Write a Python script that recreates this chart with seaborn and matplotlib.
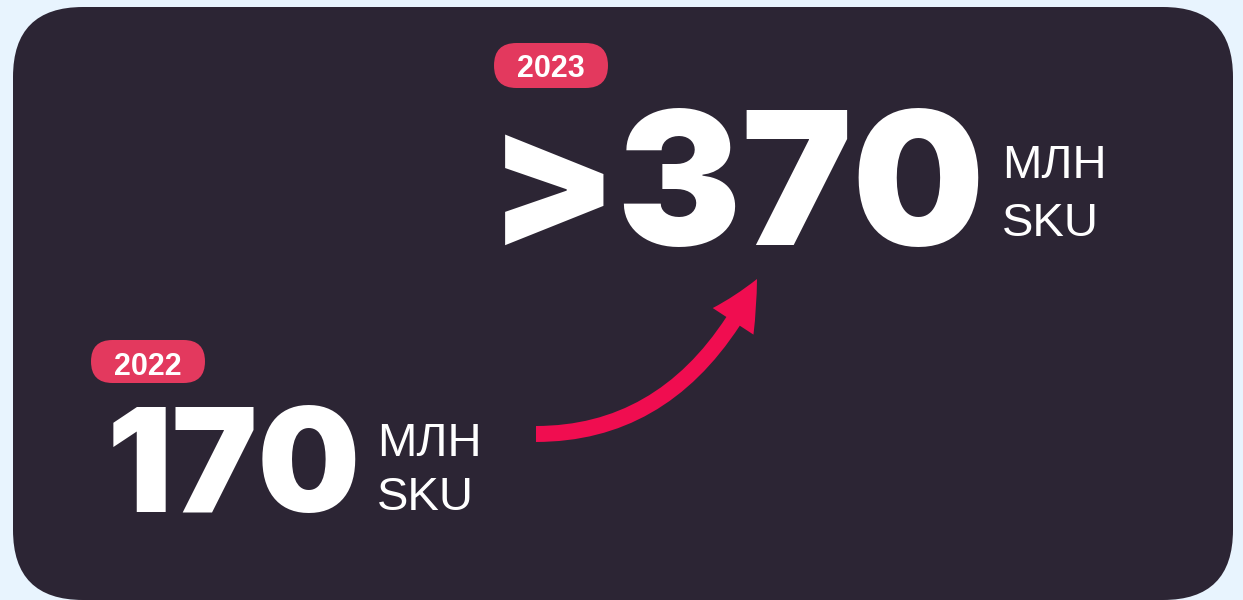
import matplotlib
matplotlib.use("Agg")
import matplotlib.pyplot as plt
import seaborn as sns
from matplotlib.patches import FancyBboxPatch, FancyArrowPatch, ArrowStyle
from matplotlib.path import Path

# Data.
years = ["2022", "2023"]
values = ["170", ">370"]
unit_lines = ["МЛН", "SKU"]

# Colours.
page_color = "#E8F4FE"
card_color = "#2C2534"
badge_color = "#E3395E"
arrow_color = "#F00D50"

sns.set_theme(style="white")
plt.rcParams["font.family"] = ["Liberation Sans", "DejaVu Sans"]

fig = plt.figure(figsize=(12.43, 6), dpi=100)
fig.patch.set_facecolor(page_color)
ax = fig.add_axes([0, 0, 1, 1])
ax.set_xlim(0, 1243)
ax.set_ylim(600, 0)
ax.set_facecolor(page_color)
ax.axis("off")
sns.despine(ax=ax, left=True, bottom=True)

# Dark card with rounded corners.
ax.add_patch(FancyBboxPatch((13, 7), 1220, 593,
                            boxstyle="round,pad=0,rounding_size=70",
                            fc=card_color, ec="none"))

# Layout for the two blocks: badge box, badge baseline, number, units.
blocks = [
    dict(badge=(91, 340, 114, 43), badge_base=375, num_x=107, num_base=512,
         num_size=104, unit_x=377, unit_base=(456, 510)),
    dict(badge=(494, 43, 114, 45), badge_base=77, num_x=489, num_base=245,
         num_size=134, unit_x=1002, unit_base=(178, 236)),
]

for year, value, b in zip(years, values, blocks):
    bx, by, bw, bh = b["badge"]
    ax.add_patch(FancyBboxPatch((bx, by), bw, bh,
                                boxstyle=f"round,pad=0,rounding_size={bh / 2}",
                                fc=badge_color, ec="none"))
    ax.text(bx + bw / 2, b["badge_base"], year, color="white", fontsize=22,
            fontweight="bold", ha="center", va="baseline")
    ax.text(b["num_x"], b["num_base"], value, color="white",
            fontsize=b["num_size"], family="Inter", fontweight=900,
            ha="left", va="baseline")
    for line, base in zip(unit_lines, b["unit_base"]):
        ax.text(b["unit_x"], base, line, color="white", fontsize=34,
                ha="left", va="baseline")

# Curved growth arrow.
curve = Path([(536, 434), (681, 434), (757, 279)],
             [Path.MOVETO, Path.CURVE3, Path.CURVE3])
ax.add_patch(FancyArrowPatch(path=curve,
                             arrowstyle=ArrowStyle.Simple(head_length=35,
                                                          head_width=35,
                                                          tail_width=11.5),
                             mutation_scale=1, fc=arrow_color, ec="none",
                             lw=0))

fig.savefig("out.png", dpi=100, facecolor=page_color)
